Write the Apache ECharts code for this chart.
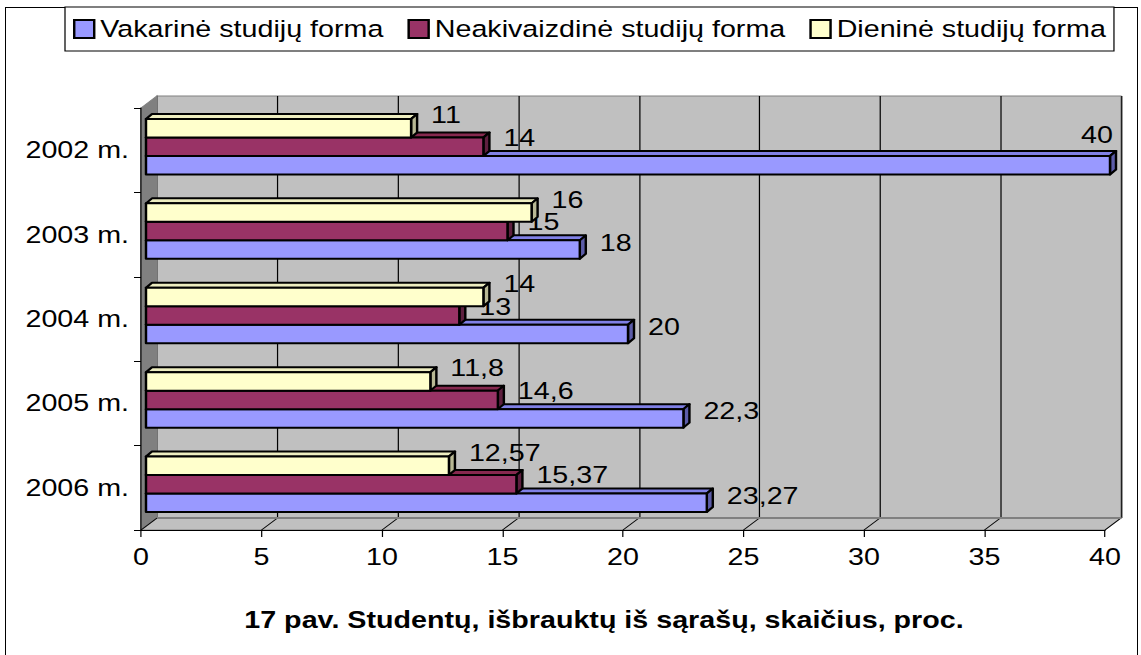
<!DOCTYPE html>
<html>
<head>
<meta charset="utf-8">
<script src="https://cdn.jsdelivr.net/npm/echarts@6/dist/echarts.min.js"></script>
<style>
  html, body { margin: 0; padding: 0; background: #fff; overflow: hidden; width: 1141px; height: 655px; }
  #frame { position: absolute; left: 5px; top: 7px; width: 1133px; height: 700px; border: 1px solid #000; box-sizing: border-box; }
  #chart { position: absolute; left: 0; top: 0; height: 655px; transform-origin: 0 0; }
</style>
</head>
<body>
<div id="frame"></div>
<div id="chart"></div>
<script>
// ---- data ----
const categories = ['2002 m.', '2003 m.', '2004 m.', '2005 m.', '2006 m.'];
const seriesNames = ['Vakarinė studijų forma', 'Neakivaizdinė studijų forma', 'Dieninė studijų forma'];
const vakarine = [40, 18, 20, 22.3, 23.27];
const neakivaizdine = [14, 15, 13, 14.6, 15.37];
const dienine = [11, 16, 14, 11.8, 12.57];
const xTicks = [0, 5, 10, 15, 20, 25, 30, 35, 40];
const titleText = '17 pav. Studentų, išbrauktų iš sąrašų, skaičius, proc.';

// ---- layout / style ----
const SX = 1.22;             // horizontal stretch of the whole picture
const FS = 23.5;             // font size
const W = 1141 / SX, H = 655;
const FX0 = 141, FX1 = 1105, FY0 = 108, FY1 = 530; // front plane (final px)
const DX = 16, DY = -12;     // 3D depth of walls
const BAR_OX = 5, BAR_OY = -3.5, BAR_FRAC = 0.219;
const CAP_X = 6, CAP_Y = 5;
const LABEL_GAP = 20;
const FONT = '"Liberation Sans", Arial, sans-serif';

const chartDom = document.getElementById('chart');
chartDom.style.width = W + 'px';
chartDom.style.transform = 'scaleX(' + SX + ')';

const fmt = v => String(v).replace('.', ',');
const ux = x => x / SX;

function barRenderer(slot, front, top, side, labelDy) {
  return function (params, api) {
    const val = api.value(0), ci = api.value(1);
    const p0 = api.coord([0, ci]);
    const p1 = api.coord([val, ci]);
    const band = api.size([0, 1])[1];
    const h = band * BAR_FRAC;
    const x0 = p0[0] + ux(BAR_OX), x1 = p1[0] + ux(BAR_OX);
    const yT = p0[1] - 1.5 * h + slot * h + BAR_OY;
    const yB = yT + h;
    const dx = ux(CAP_X), dy = CAP_Y;
    const stroke = { stroke: '#000', lineWidth: 2, lineJoin: 'round' };
    const txt = fmt(val);
    const tw = txt.length * 0.556 * FS;
    let lx = x1 + ux(LABEL_GAP), ly = (yT + yB) / 2 + labelDy, align = 'left';
    const wallRight = ux(FX1 + DX);
    if (lx + tw > wallRight - 2) {
      align = 'right';
      lx = x1 + ux(3);
      ly = (yT + yB) / 2 - 30;
    }
    return {
      type: 'group',
      children: [
        { type: 'polygon', shape: { points: [[x0, yT], [x1, yT], [x1 + dx, yT - dy], [x0 + dx, yT - dy]] },
          style: Object.assign({ fill: top }, stroke) },
        { type: 'polygon', shape: { points: [[x1, yT], [x1 + dx, yT - dy], [x1 + dx, yB - dy], [x1, yB]] },
          style: Object.assign({ fill: side }, stroke) },
        { type: 'rect', shape: { x: x0, y: yT, width: x1 - x0, height: h },
          style: Object.assign({ fill: front }, stroke) },
        { type: 'text', z2: 100, style: { text: txt, x: lx, y: ly, fill: '#000', font: FS + 'px ' + FONT,
          align: align, verticalAlign: 'middle' } }
      ]
    };
  };
}

const specs = [
  { name: seriesNames[0], data: vakarine, slot: 2, front: '#9999FF', top: '#8080E6', side: '#5C5CA8', dy: -7 },
  { name: seriesNames[1], data: neakivaizdine, slot: 1, front: '#993366', top: '#86294F', side: '#5E1F3F', dy: -9 },
  { name: seriesNames[2], data: dienine, slot: 0, front: '#FFFFCC', top: '#EDEDC0', side: '#B8B894', dy: -13 }
];

const series = specs.map((s, i) => ({
  type: 'custom',
  name: s.name,
  xAxisIndex: 0, yAxisIndex: 0,
  z: 3 + i,
  itemStyle: { color: s.front },
  encode: { x: 0, y: 1 },
  data: s.data.map((v, k) => [v, k]),
  renderItem: barRenderer(s.slot, s.front, s.top, s.side, s.dy)
}));

// decorations: floor, left wall, floor lines
const P = pts => pts.map(p => [ux(p[0]), p[1]]);
const graphics = [
  { type: 'polygon', z: 1, shape: { points: P([[FX0, FY1], [FX1, FY1], [FX1 + DX, FY1 + DY], [FX0 + DX, FY1 + DY]]) },
    style: { fill: '#C0C0C0', stroke: '#808080', lineWidth: 1 } },
  { type: 'polygon', z: 1, shape: { points: P([[FX0, FY0], [FX0 + DX, FY0 + DY], [FX0 + DX, FY1 + DY], [FX0, FY1]]) },
    style: { fill: '#808080', stroke: '#808080', lineWidth: 1 } }
];
xTicks.forEach(t => {
  const x = FX0 + (FX1 - FX0) * t / 40;
  graphics.push({ type: 'line', z: 1, shape: { x1: ux(x), y1: FY1, x2: ux(x + DX), y2: FY1 + DY },
    style: { stroke: '#000', lineWidth: 1 } });
});
graphics.push({ type: 'line', z: 1, shape: { x1: ux(FX0 + DX), y1: FY1 + DY, x2: ux(FX1 + DX), y2: FY1 + DY },
  style: { stroke: '#808080', lineWidth: 2 } });
graphics.push({ type: 'text', z: 5, style: { text: titleText, x: ux(604), y: 620, fill: '#000',
  font: 'bold ' + FS + 'px ' + FONT, align: 'center', verticalAlign: 'middle' } });

const option = {
  animation: false,
  backgroundColor: 'transparent',
  textStyle: { fontFamily: FONT },
  legend: {
    top: 7, left: ux(65),
    padding: [10, ux(8), 10, ux(8)],
    itemGap: ux(24),
    itemWidth: ux(20), itemHeight: 18,
    borderColor: '#000', borderWidth: 1, backgroundColor: '#fff',
    textStyle: { fontSize: FS, color: '#000', fontFamily: FONT, lineHeight: 24 },
    data: specs.map(s => ({ name: s.name, icon: 'rect', itemStyle: { color: s.front, borderColor: '#000', borderWidth: 2 } }))
  },
  grid: [
    { left: ux(FX0), right: W - ux(FX1), top: FY0, bottom: H - FY1 },
    { left: ux(FX0 + DX), right: W - ux(FX1 + DX), top: FY0 + DY, bottom: H - (FY1 + DY),
      show: true, backgroundColor: '#C0C0C0', borderColor: '#808080', borderWidth: 1, z: 0 }
  ],
  xAxis: [
    { gridIndex: 0, type: 'value', min: 0, max: 40, interval: 5, z: 6,
      axisLine: { show: true, lineStyle: { color: '#000', width: 1 } },
      axisTick: { show: true, length: 7, lineStyle: { color: '#000' } },
      splitLine: { show: false },
      axisLabel: { fontSize: FS, color: '#000', margin: 15, fontFamily: FONT } },
    { gridIndex: 1, type: 'value', min: 0, max: 40, interval: 5, z: 0,
      axisLine: { show: false }, axisTick: { show: false }, axisLabel: { show: false },
      splitLine: { show: true, lineStyle: { color: '#000', width: 1 } } }
  ],
  yAxis: [
    { gridIndex: 0, type: 'category', data: categories, inverse: true, z: 6,
      axisLine: { show: true, lineStyle: { color: '#000', width: 1 } },
      axisTick: { show: true, length: ux(7), lineStyle: { color: '#000' } },
      axisLabel: { fontSize: FS, color: '#000', margin: ux(12), fontFamily: FONT },
      splitLine: { show: false } },
    { gridIndex: 1, type: 'category', data: categories, inverse: true, show: false }
  ],
  graphic: graphics,
  series: series
};

const chart = echarts.init(chartDom, null, { renderer: 'svg', width: W, height: H });
chart.setOption(option);
</script>
</body>
</html>
